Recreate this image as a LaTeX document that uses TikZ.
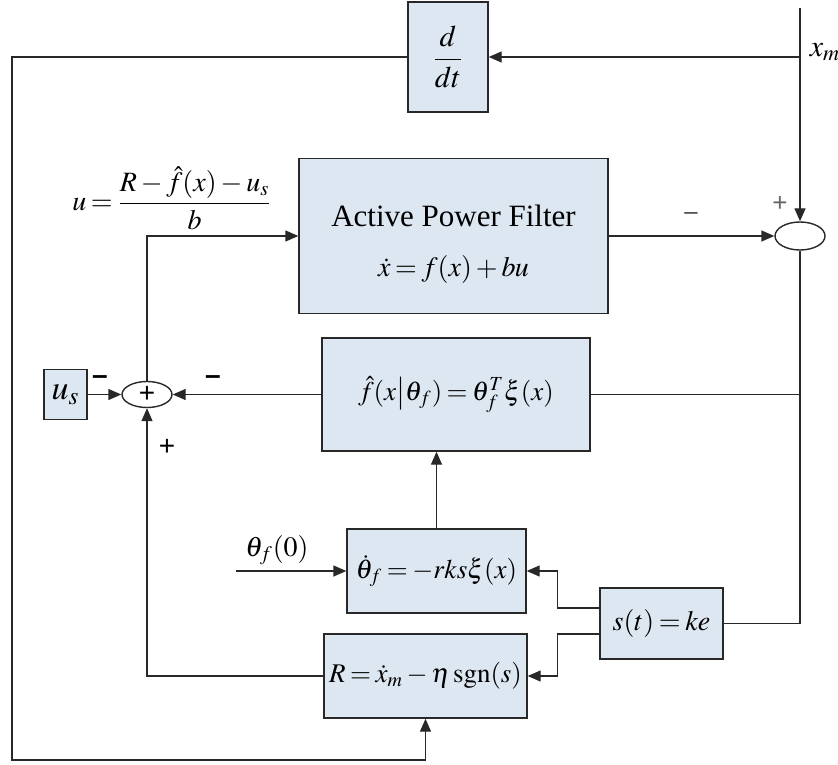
\documentclass[tikz,border=0pt]{standalone}
\usepackage{amsmath}
\usepackage{mathptmx}
\usepackage{fontspec}
\setmainfont{Liberation Serif}
\newfontfamily\signfont{Liberation Sans}
\usetikzlibrary{arrows.meta,shapes.geometric,calc}
\definecolor{boxfill}{RGB}{221,231,242}
\definecolor{wire}{RGB}{40,40,40}
\medmuskip=2.5mu
\thickmuskip=3mu
\tikzset{
  >={Triangle[length=6.5pt,width=5.5pt]},
  blk/.style={draw=wire,fill=boxfill,line width=0.7pt,inner sep=0pt,align=center,
    font=\fontsize{14}{17}\selectfont},
  sumnode/.style={ellipse,draw=wire,line width=0.7pt,inner sep=0pt,
    minimum width=25pt,minimum height=#1,font=\signfont\fontsize{14}{14}\selectfont},
  sumnode/.default=13pt,
  wire/.style={draw=wire,line width=0.7pt},
  flow/.style={->,wire},
  sign/.style={font=\signfont\fontsize{#1}{#1}\selectfont,inner sep=0pt},
  sign/.default=14,
  lbl/.style={font=\fontsize{14}{17}\selectfont,inner sep=0pt},
}

\begin{document}
\begin{tikzpicture}[x=0.5pt,y=-0.5pt]
  \useasboundingbox (0,0) rectangle (838,764);
  % blocks
  \node[blk,minimum width=40pt,minimum height=55pt,font=\fontsize{15}{17}\selectfont] (ddt) at (448,57) {$\dfrac{d}{dt}$};
  \node[blk,minimum width=154.5pt,minimum height=77.5pt,font=\fontsize{15.5}{18}\selectfont] (apf) at (453.5,236) {\rule{0pt}{19pt}Active Power Filter\\[7pt]{\fontsize{14}{17}\selectfont$\dot x = f(x) + bu$}};
  \node[blk,minimum width=134pt,minimum height=56.5pt,font=\fontsize{13.5}{16}\selectfont] (fhat) at (456,394.5) {$\hat f(x\big|\theta_f) = \theta_f^T\xi(x)$};
  \node[blk,minimum width=89.5pt,minimum height=42pt,font=\fontsize{13.5}{16}\selectfont] (theta) at (436.5,571) {$\dot\theta_f = -rks\xi(x)$};
  \node[blk,minimum width=101.5pt,minimum height=42pt,font=\fontsize{13.5}{16}\selectfont] (rbox) at (425.5,676) {$R = \dot x_m - \eta\operatorname{sgn}(s)$};
  \node[blk,minimum width=61.5pt,minimum height=35.5pt] (sbox) at (661.5,623.5) {$s(t) = ke$};
  \node[blk,minimum width=21.5pt,minimum height=25pt,font=\fontsize{17}{18}\selectfont] (us) at (65.5,394.5) {$u_s$};
  \node[sumnode] (sumL) at (147,394.5) {+};
  \node[sumnode=14pt] (sumR) at (800,236) {};
  \coordinate (xin) at (800,8);
  \coordinate (xj) at (800,57);
  \coordinate (lb) at (12,760);
  \coordinate (t0) at (236,571);

  % connectors
  \draw[flow] (xin) -- (sumR.north);
  \draw[flow] (xj) -- (ddt.east);
  \draw[flow] (ddt.west) -| (lb) -| (rbox.south);
  \draw[flow] (apf.east) -- (sumR.west);
  \draw[wire] (sumR.south) |- (sbox.east);
  \draw[wire] (fhat.east) -- (fhat.east -| sumR.south);
  \draw[flow] (fhat.west) -- (sumL.east);
  \draw[flow] (us.east) -- (sumL.west);
  \draw[flow] (sumL.north) |- (apf.west);
  \draw[flow] (rbox.west) -| (sumL.south);
  \draw[flow] (theta.north) -- (theta.north |- fhat.south);
  \draw[flow] (t0) -- (theta.west);
  \draw[flow] ([yshift=7.75pt]sbox.west) -- ++(-21pt,0) |- (theta.east);
  \draw[flow] ([yshift=-5.25pt]sbox.west) -- ++(-21pt,0) |- (rbox.east);

  % labels
  \node[lbl] (ulaw) at (172,198) {$u = \dfrac{R - \hat f(x) - u_s}{b}$};
  \node[lbl,font=\fontsize{15}{17}\selectfont] (xm) at (825,52) {$x_m$};
  \node[lbl] (th0) at (277,550) {$\theta_f(0)$};
  \node[sign=12,text=black!75] (mR) at (691,216) {–};
  \node[sign=13,text=black!60] (pR) at (780,204) {+};
  \node[sign,font=\signfont\bfseries\fontsize{14}{14}\selectfont] (mU) at (100,380) {–};
  \node[sign,font=\signfont\bfseries\fontsize{14}{14}\selectfont] (mF) at (213,380) {–};
  \node[sign] (pB) at (167,447) {+};
\end{tikzpicture}
\end{document}
